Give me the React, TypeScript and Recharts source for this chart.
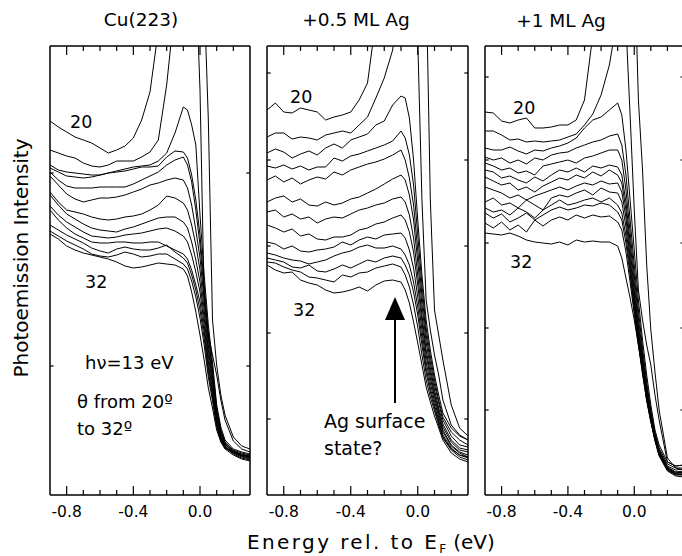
import React from 'react';
import { LineChart, Line, XAxis, YAxis, ReferenceLine } from 'recharts';

// energy grid (eV rel. to E_F), finer near the Fermi edge
const energies = [-0.9, -0.85, -0.8, -0.75, -0.7, -0.65, -0.6, -0.55, -0.5, -0.45, -0.4, -0.35, -0.3, -0.25, -0.2, -0.15, -0.1,
  -0.075, -0.05, -0.025, 0, 0.025, 0.05, 0.075, 0.1, 0.125, 0.15, 0.2, 0.25, 0.3];
const angles = [20, 21, 22, 23, 24, 25, 26, 27, 28, 29, 30, 31, 32];

// Cu(223), intensity in arbitrary units, one row per emission angle
const cuCurves = [
  [374, 368, 363, 358, 355, 352, 347, 342, 345, 349, 357, 375, 403, 465, 530, 570, 590, 590, 570, 520, 405, 195, 160, 140, 120, 95, 75, 54, 46, 43],
  [345, 342, 339, 337, 332, 329, 328, 330, 334, 334, 334, 338, 343, 355, 410, 490, 550, 575, 585, 575, 545, 500, 375, 175, 130, 100, 80, 58, 49, 46],
  [330, 325, 323, 322, 321, 320, 320, 322, 324, 326, 328, 329, 330, 334, 342, 362, 388, 385, 370, 350, 280, 220, 170, 133, 90, 68, 55, 46, 43, 41],
  [327, 323, 319, 318, 317, 318, 320, 322, 323, 324, 326, 328, 328, 329, 338, 344, 343, 337, 320, 295, 260, 210, 162, 127, 87, 65, 53, 44, 40, 38],
  [323, 315, 309, 307, 307, 307, 308, 308, 308, 308, 311, 315, 319, 323, 330, 335, 338, 330, 313, 285, 250, 203, 157, 123, 85, 63, 52, 45, 42, 40],
  [319, 310, 301, 296, 293, 295, 297, 297, 298, 300, 303, 306, 310, 312, 315, 317, 315, 307, 290, 265, 237, 195, 150, 118, 82, 62, 51, 43, 39, 37],
  [303, 293, 285, 283, 281, 278, 276, 275, 276, 278, 279, 281, 285, 290, 299, 297, 292, 285, 270, 250, 225, 185, 145, 114, 80, 60, 50, 44, 41, 39],
  [300, 290, 281, 276, 271, 267, 265, 264, 263, 266, 268, 271, 274, 277, 278, 278, 273, 267, 253, 235, 213, 177, 139, 110, 77, 58, 49, 42, 38, 36],
  [289, 280, 273, 268, 263, 259, 258, 257, 258, 260, 261, 262, 264, 266, 267, 264, 259, 253, 240, 223, 203, 170, 133, 105, 74, 57, 48, 43, 40, 38],
  [285, 275, 267, 261, 257, 253, 252, 252, 253, 253, 252, 252, 253, 253, 249, 245, 241, 236, 225, 210, 193, 163, 128, 101, 72, 56, 48, 41, 37, 35],
  [270, 265, 260, 256, 252, 247, 244, 242, 246, 248, 246, 245, 245, 247, 250, 243, 237, 232, 220, 205, 185, 157, 123, 98, 70, 55, 47, 42, 39, 37],
  [264, 259, 254, 250, 246, 241, 239, 238, 240, 243, 241, 238, 239, 241, 241, 236, 231, 226, 214, 198, 177, 150, 118, 94, 68, 54, 47, 43, 40, 39],
  [261, 256, 249, 245, 242, 240, 238, 236, 233, 229, 227, 228, 230, 232, 231, 230, 226, 219, 203, 183, 160, 135, 107, 87, 65, 53, 46, 40, 36, 34],
];

// +0.5 ML Ag
const halfMlCurves = [
  [385, 392, 383, 382, 387, 385, 383, 375, 378, 380, 383, 395, 412, 475, 530, 570, 590, 600, 590, 570, 455, 295, 195, 165, 140, 120, 95, 70, 60, 55],
  [358, 362, 362, 356, 358, 357, 355, 360, 362, 364, 362, 370, 378, 397, 417, 445, 500, 530, 550, 560, 560, 540, 520, 295, 185, 160, 135, 90, 67, 59],
  [342, 346, 343, 337, 341, 344, 340, 347, 351, 347, 355, 358, 361, 370, 374, 390, 399, 397, 377, 335, 275, 220, 175, 145, 120, 100, 82, 67, 59, 55],
  [329, 327, 330, 326, 329, 325, 328, 328, 337, 334, 339, 341, 344, 347, 350, 354, 364, 357, 340, 310, 260, 210, 167, 139, 115, 95, 78, 63, 55, 50],
  [315, 319, 313, 317, 311, 315, 318, 316, 323, 320, 325, 328, 331, 333, 336, 340, 345, 335, 317, 290, 245, 200, 160, 133, 110, 92, 75, 59, 50, 48],
  [293, 297, 299, 293, 296, 290, 289, 293, 290, 292, 296, 298, 302, 306, 311, 316, 320, 315, 300, 275, 233, 190, 153, 127, 105, 87, 71, 55, 47, 45],
  [283, 285, 278, 281, 276, 278, 272, 276, 278, 277, 281, 285, 287, 290, 292, 296, 298, 293, 280, 257, 220, 180, 145, 122, 101, 84, 68, 53, 45, 43],
  [270, 267, 263, 266, 259, 261, 256, 255, 258, 258, 260, 265, 267, 271, 273, 277, 280, 275, 263, 243, 210, 173, 140, 117, 98, 81, 65, 50, 43, 40],
  [253, 251, 246, 249, 244, 243, 245, 246, 248, 253, 250, 255, 258, 256, 260, 261, 262, 257, 245, 227, 198, 165, 133, 112, 94, 78, 63, 49, 42, 38],
  [242, 240, 237, 235, 234, 231, 233, 235, 239, 242, 244, 248, 250, 247, 247, 249, 246, 240, 230, 213, 188, 157, 127, 107, 90, 75, 60, 47, 40, 37],
  [237, 235, 233, 228, 227, 230, 224, 223, 226, 230, 227, 231, 235, 233, 237, 239, 237, 230, 220, 203, 180, 150, 122, 103, 87, 72, 58, 46, 40, 38],
  [233, 232, 228, 225, 223, 218, 217, 215, 213, 220, 218, 222, 223, 227, 229, 231, 228, 220, 208, 190, 168, 140, 115, 98, 84, 70, 57, 45, 38, 35],
  [230, 225, 222, 223, 215, 212, 210, 205, 202, 203, 205, 208, 204, 210, 214, 215, 213, 205, 192, 173, 152, 130, 108, 93, 79, 67, 55, 42, 36, 33],
];

// +1 ML Ag
const oneMlCurves = [
  [383, 382, 374, 372, 375, 377, 367, 367, 368, 370, 370, 375, 395, 460, 530, 570, 590, 560, 470, 380, 285, 205, 175, 150, 130, 100, 75, 33, 29, 30],
  [364, 364, 360, 355, 356, 353, 354, 353, 354, 355, 358, 361, 370, 381, 400, 430, 480, 520, 545, 555, 540, 395, 325, 230, 165, 123, 85, 37, 27, 25],
  [347, 345, 345, 348, 344, 341, 345, 344, 347, 349, 352, 357, 367, 375, 378, 385, 392, 380, 345, 295, 245, 195, 155, 120, 90, 65, 50, 33, 29, 30],
  [338, 335, 337, 332, 335, 331, 337, 335, 340, 342, 343, 347, 350, 353, 355, 359, 361, 350, 320, 275, 230, 185, 147, 113, 85, 62, 47, 31, 27, 27],
  [332, 329, 325, 327, 322, 324, 320, 329, 331, 333, 335, 332, 337, 339, 342, 345, 345, 335, 305, 263, 220, 177, 141, 109, 82, 60, 45, 29, 25, 26],
  [325, 323, 317, 319, 315, 312, 318, 314, 320, 325, 323, 327, 323, 329, 327, 330, 328, 320, 293, 253, 212, 170, 137, 106, 80, 59, 44, 28, 23, 24],
  [318, 314, 310, 312, 305, 308, 303, 309, 313, 317, 315, 320, 317, 323, 319, 325, 320, 312, 285, 245, 205, 165, 133, 103, 78, 58, 43, 27, 22, 23],
  [308, 305, 302, 297, 300, 295, 299, 302, 305, 308, 305, 309, 312, 310, 314, 311, 312, 303, 277, 237, 199, 160, 129, 100, 76, 57, 42, 26, 21, 21],
  [293, 297, 290, 292, 287, 295, 290, 285, 297, 300, 298, 302, 305, 300, 307, 303, 302, 293, 268, 231, 194, 157, 126, 98, 75, 56, 41, 26, 21, 20],
  [287, 283, 285, 280, 287, 283, 277, 285, 290, 295, 290, 292, 295, 297, 293, 297, 290, 282, 259, 225, 189, 155, 124, 96, 74, 55, 40, 25, 20, 20],
  [282, 277, 281, 273, 277, 282, 275, 280, 285, 288, 285, 287, 290, 289, 292, 290, 283, 275, 252, 220, 185, 152, 122, 94, 73, 54, 39, 24, 19, 18],
  [272, 267, 273, 265, 270, 263, 275, 269, 275, 278, 275, 280, 277, 280, 278, 279, 273, 265, 243, 213, 181, 150, 121, 95, 74, 55, 40, 25, 21, 21],
  [262, 261, 260, 262, 259, 255, 253, 252, 251, 253, 250, 255, 253, 254, 253, 253, 249, 237, 217, 197, 175, 150, 125, 100, 77, 57, 43, 27, 23, 22],
];

const energyTicks = [-0.8, -0.7, -0.6, -0.5, -0.4, -0.3, -0.2, -0.1, 0, 0.1, 0.2];
const labelledTicks = [-0.8, -0.4, 0];
const cuYTicks = [129, 322];
const halfYTicks = [76, 162, 249, 335, 422];
const oneYTicks = [85, 167, 252, 335, 418];

const FONT = '"DejaVu Sans", sans-serif';
const PLOT_TOP = 46;
const PLOT_BOTTOM = 495;
const Y_MAX = PLOT_BOTTOM - PLOT_TOP;
const E_MIN = -0.9;
const E_MAX = 0.3;
const Y_TICK = 0.022;

const buildRows = (curves: number[][]) =>
  energies.map((e, i) => {
    const row: any = { e };
    curves.forEach((c, k) => {
      row['a' + angles[k]] = c[i];
    });
    return row;
  });

const EnergyTick = (props: any) => {
  const { x, payload } = props;
  const v = payload.value;
  const major = labelledTicks.some((t) => Math.abs(t - v) < 1e-6);
  const len = major ? 9 : 5;
  return (
    <g>
      <line x1={x} x2={x} y1={PLOT_BOTTOM} y2={PLOT_BOTTOM - len} stroke="#000" strokeWidth={1.2} />
      <line x1={x} x2={x} y1={PLOT_TOP} y2={PLOT_TOP + len} stroke="#000" strokeWidth={1.2} />
      {major && (
        <text x={x} y={517} textAnchor="middle" fontFamily={FONT} fontSize={15.5} fill="#000">
          {v.toFixed(1)}
        </text>
      )}
    </g>
  );
};

const Panel = ({ left, width, ml, mr, curves, yTicks }: any) => (
  <div style={{ position: 'absolute', left, top: 0 }}>
    <LineChart width={width} height={556} data={buildRows(curves)} margin={{ top: PLOT_TOP, right: mr, bottom: 21, left: ml }}>
      <XAxis
        dataKey="e"
        type="number"
        domain={[E_MIN, E_MAX]}
        allowDataOverflow
        ticks={energyTicks}
        interval={0}
        height={40}
        tickLine={false}
        tick={<EnergyTick />}
        axisLine={{ stroke: '#000', strokeWidth: 1.5 }}
      />
      <YAxis type="number" domain={[0, Y_MAX]} allowDataOverflow hide />
      <ReferenceLine y={Y_MAX} stroke="#000" strokeWidth={1.5} />
      <ReferenceLine x={E_MIN} stroke="#000" strokeWidth={1.5} />
      <ReferenceLine x={E_MAX} stroke="#000" strokeWidth={1.5} />
      {yTicks.map((t: number) => (
        <ReferenceLine
          key={'l' + t}
          segment={[{ x: E_MIN, y: t }, { x: E_MIN + Y_TICK, y: t }]}
          stroke="#000"
          strokeWidth={1.2}
        />
      ))}
      {yTicks.map((t: number) => (
        <ReferenceLine
          key={'r' + t}
          segment={[{ x: E_MAX - Y_TICK, y: t }, { x: E_MAX, y: t }]}
          stroke="#000"
          strokeWidth={1.2}
        />
      ))}
      {angles.map((a) => (
        <Line
          key={a}
          dataKey={'a' + a}
          type="linear"
          stroke="#000"
          strokeWidth={1}
          dot={false}
          isAnimationActive={false}
        />
      ))}
    </LineChart>
  </div>
);

const txt = { fontFamily: FONT, fill: '#000' } as const;

export default function App() {
  return (
    <div style={{ position: 'absolute', left: 0, top: 0, width: 682, height: 556, overflow: 'hidden', background: '#fff' }}>
      <Panel left={0} width={262} ml={50} mr={12} curves={cuCurves} yTicks={cuYTicks} />
      <Panel left={258} width={220} ml={9} mr={10} curves={halfMlCurves} yTicks={halfYTicks} />
      <Panel left={476} width={218} ml={9} mr={10} curves={oneMlCurves} yTicks={oneYTicks} />
      <svg width={682} height={556} style={{ position: 'absolute', left: 0, top: 0, pointerEvents: 'none' }}>
        <text x={141} y={26} textAnchor="middle" fontSize={18.5} {...txt}>Cu(223)</text>
        <text x={356} y={26} textAnchor="middle" fontSize={18.5} {...txt}>+0.5 ML Ag</text>
        <text x={561} y={27} textAnchor="middle" fontSize={18.5} {...txt}>+1 ML Ag</text>

        <text x={70} y={128} fontSize={17.5} {...txt}>20</text>
        <text x={85} y={288} fontSize={17.5} {...txt}>32</text>
        <text x={290} y={103} fontSize={17.5} {...txt}>20</text>
        <text x={293} y={316} fontSize={17.5} {...txt}>32</text>
        <text x={513} y={114} fontSize={17.5} {...txt}>20</text>
        <text x={510} y={268} fontSize={17.5} {...txt}>32</text>

        <text x={85} y={369} fontSize={18} {...txt}>hν=13 eV</text>
        <text x={77} y={408} fontSize={18} {...txt}>θ from 20º</text>
        <text x={77} y={435} fontSize={18} {...txt}>to 32º</text>

        <line x1={395} x2={395} y1={318} y2={403} stroke="#000" strokeWidth={2} />
        <polygon points="395,297 385,320 405,320" fill="#000" />
        <text x={324} y={428} fontSize={19} {...txt}>Ag surface</text>
        <text x={324} y={455} fontSize={19} {...txt}>state?</text>

        <text x={28} y={258} textAnchor="middle" fontSize={20} transform="rotate(-90, 28, 258)" {...txt}>
          Photoemission Intensity
        </text>
        <text x={247} y={549} fontSize={20} {...txt}>
          <tspan letterSpacing={2.4}>Energy rel. to E</tspan>
          <tspan fontSize={12} dy={4}>F</tspan>
          <tspan dy={-4} dx={7}>(eV)</tspan>
        </text>
      </svg>
    </div>
  );
}
